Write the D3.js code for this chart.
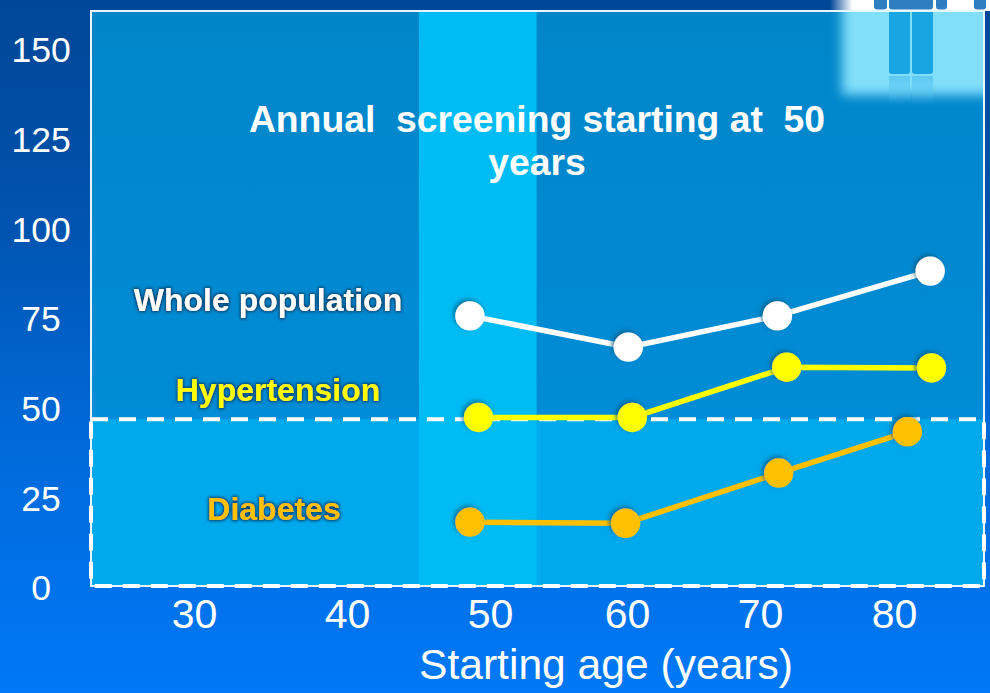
<!DOCTYPE html>
<html>
<head>
<meta charset="utf-8">
<script src="https://cdn.jsdelivr.net/npm/d3@7"></script>
<style>
html,body{margin:0;padding:0;background:#0077f5;overflow:hidden}
svg{display:block}
text{font-family:"Liberation Sans",Arial,sans-serif}
</style>
</head>
<body>
<svg id="chart" width="990" height="693"></svg>
<script>
// Screening outcome by starting age, three populations
const xTicks = [30, 40, 50, 60, 70, 80];
const yTicks = [0, 25, 50, 75, 100, 125, 150];
const wholeAges = [48.6, 60.1, 71.3, 82.7];
const wholeValues = [75.3, 66.6, 75.3, 87.8];
const hyperAges = [49.2, 60.4, 72, 82.8];
const hyperValues = [47, 47, 61, 60.8];
const diabetesAges = [48.6, 59.9, 71.4, 81];
const diabetesValues = [17.8, 17.5, 31.5, 43];
const titleLines = ["Annual  screening starting at  50", "years"];
const xTitle = "Starting age (years)";
const thresholdValue = 46.5;
const bandAges = [45.03, 53.4];

const svg = d3.select("#chart");
const defs = svg.append("defs");

function vGradient(id, stops) {
  const g = defs.append("linearGradient").attr("id", id)
    .attr("x1", 0).attr("y1", 0).attr("x2", 0).attr("y2", 1);
  stops.forEach(s => g.append("stop").attr("offset", s[0]).attr("stop-color", s[1])
    .attr("stop-opacity", s[2] === undefined ? 1 : s[2]));
}
vGradient("page", [[0, "#004797"], [0.3, "#0052ac"], [0.62, "#0069d8"], [1, "#0078f7"]]);
vGradient("plot", [[0, "#0085c8"], [1, "#008fdc"]]);
vGradient("reflection", [[0, "#56c4f1", 0.8], [1, "#56c4f1", 0]]);

// Dark halo behind the series labels
const glow = defs.append("filter").attr("id", "glow")
  .attr("x", "-10%").attr("y", "-30%").attr("width", "120%").attr("height", "160%");
glow.append("feMorphology").attr("in", "SourceAlpha").attr("operator", "dilate").attr("radius", 1.2).attr("result", "wide");
glow.append("feGaussianBlur").attr("in", "wide").attr("stdDeviation", 1.6).attr("result", "blur");
glow.append("feFlood").attr("flood-color", "#003f68").attr("result", "ink");
glow.append("feComposite").attr("in", "ink").attr("in2", "blur").attr("operator", "in").attr("result", "halo");
const glowMerge = glow.append("feMerge");
glowMerge.append("feMergeNode").attr("in", "halo");
glowMerge.append("feMergeNode").attr("in", "SourceGraphic");

const dotShadow = defs.append("filter").attr("id", "dotShadow")
  .attr("x", "-50%").attr("y", "-50%").attr("width", "200%").attr("height", "200%");
dotShadow.append("feDropShadow").attr("dx", -2).attr("dy", -2).attr("stdDeviation", 2)
  .attr("flood-color", "#005a80").attr("flood-opacity", 0.75);

const soft = defs.append("filter").attr("id", "soft")
  .attr("x", "-30%").attr("y", "-30%").attr("width", "160%").attr("height", "160%");
soft.append("feGaussianBlur").attr("stdDeviation", 6);

const stripFade = defs.append("linearGradient").attr("id", "stripFade");
[[0, "#ffffff", 0], [0.14, "#ffffff", 1], [1, "#ffffff", 1]].forEach(s =>
  stripFade.append("stop").attr("offset", s[0]).attr("stop-color", s[1]).attr("stop-opacity", s[2]));

const x = d3.scaleLinear().domain(xTicks).range([194, 347, 490, 627, 760, 894]);
const y = d3.scaleLinear().domain([0, 150]).range([586, 48]);

const plot = {left: 91, right: 984, top: 11, bottom: 586};

svg.append("rect").attr("width", 990).attr("height", 693).attr("fill", "url(#page)");
svg.append("rect").attr("x", plot.left).attr("y", plot.top)
  .attr("width", plot.right - plot.left).attr("height", plot.bottom - plot.top)
  .attr("fill", "url(#plot)");

// Pale panel behind the plot's upper right corner
const clip = defs.append("clipPath").attr("id", "plotClip");
clip.append("rect").attr("x", plot.left).attr("y", plot.top)
  .attr("width", plot.right - plot.left).attr("height", plot.bottom - plot.top);
const deco = svg.append("g").attr("clip-path", "url(#plotClip)");
deco.append("rect").attr("x", 842).attr("y", -30).attr("width", 176).attr("height", 125)
  .attr("fill", "#82dffa").attr("filter", "url(#soft)");
[889, 912].forEach(left => {
  deco.append("rect").attr("x", left).attr("y", 0).attr("width", 21).attr("height", 74).attr("rx", 3).attr("fill", "#18a5e2");
  deco.append("rect").attr("x", left).attr("y", 76).attr("width", 21).attr("height", 28).attr("fill", "url(#reflection)");
});

// White strip above the plot, with the tops of the figure icons
svg.append("rect").attr("x", 830).attr("y", 0).attr("width", 160).attr("height", 11).attr("fill", "url(#stripFade)");
[[874, 13], [889, 44], [936, 11], [974, 12]].forEach(d =>
  svg.append("rect").attr("x", d[0]).attr("y", -4).attr("width", d[1]).attr("height", 13.5).attr("rx", 3).attr("fill", "#2f7fc0"));

// Highlighted age band and the lower sub-range
svg.append("rect").attr("x", plot.left).attr("y", y(thresholdValue))
  .attr("width", plot.right - plot.left).attr("height", plot.bottom - y(thresholdValue))
  .attr("fill", "#00a8ec");
svg.append("rect").attr("x", x(bandAges[0])).attr("y", plot.top)
  .attr("width", x(bandAges[1]) - x(bandAges[0])).attr("height", plot.bottom - plot.top)
  .attr("fill", "#00bcf4");

svg.append("rect").attr("x", plot.left).attr("y", plot.top)
  .attr("width", plot.right - plot.left).attr("height", plot.bottom - plot.top)
  .attr("fill", "none").attr("stroke", "#e6f6fd").attr("stroke-width", 2);

// Dashed outline of the lower sub-range
svg.append("rect").attr("x", plot.left).attr("y", y(thresholdValue))
  .attr("width", plot.right - plot.left).attr("height", plot.bottom - y(thresholdValue))
  .attr("fill", "none").attr("stroke", "#ffffff").attr("stroke-width", 4)
  .attr("stroke-dasharray", "17 11");

// Axes
const yAxis = d3.axisLeft(y).tickValues(yTicks).tickSize(0).tickPadding(0);
const gy = svg.append("g").attr("transform", "translate(41,1.5)").call(yAxis);
gy.select(".domain").remove();
gy.selectAll("text").attr("fill", "#fff").attr("font-size", 35.5).attr("text-anchor", "middle").attr("dy", "0.35em");

const xAxis = d3.axisBottom(x).tickValues(xTicks).tickSize(0).tickPadding(0).tickFormat(d3.format("d"));
const gx = svg.append("g").attr("transform", "translate(0,599)").call(xAxis);
gx.select(".domain").remove();
gx.selectAll("text").attr("fill", "#fff").attr("font-size", 41).attr("dy", "0.71em");

svg.append("text").attr("x", 606).attr("y", 679).attr("text-anchor", "middle")
  .attr("fill", "#fff").attr("font-size", 42.6).text(xTitle);

// Heading
svg.append("g").selectAll("text").data(titleLines).join("text")
  .attr("x", 537).attr("y", (d, i) => 132 + i * 42.5)
  .attr("text-anchor", "middle").attr("fill", "#fff")
  .attr("font-size", 37.3).attr("font-weight", "bold")
  .attr("xml:space", "preserve").style("white-space", "pre").text(d => d);

// Series
const series = [
  {name: "Whole population", ages: wholeAges, values: wholeValues, color: "#ffffff", lx: 268, ly: 311, fs: 32},
  {name: "Hypertension", ages: hyperAges, values: hyperValues, color: "#ffff00", lx: 278, ly: 401, fs: 32},
  {name: "Diabetes", ages: diabetesAges, values: diabetesValues, color: "#ffc000", lx: 274, ly: 520, fs: 32}
];
const line = d3.line().x(d => x(d[0])).y(d => y(d[1]));

series.forEach(s => {
  const pts = d3.zip(s.ages, s.values);
  const g = svg.append("g");
  g.append("path").attr("d", line(pts)).attr("fill", "none")
    .attr("stroke", s.color).attr("stroke-width", 5.5);
  g.selectAll("circle").data(pts).join("circle")
    .attr("cx", d => x(d[0])).attr("cy", d => y(d[1])).attr("r", 14.7)
    .attr("fill", s.color).attr("filter", "url(#dotShadow)");
  svg.append("text").attr("x", s.lx).attr("y", s.ly).attr("text-anchor", "middle")
    .attr("fill", s.color).attr("font-size", s.fs).attr("font-weight", "bold")
    .attr("filter", "url(#glow)").text(s.name);
});
</script>
</body>
</html>
